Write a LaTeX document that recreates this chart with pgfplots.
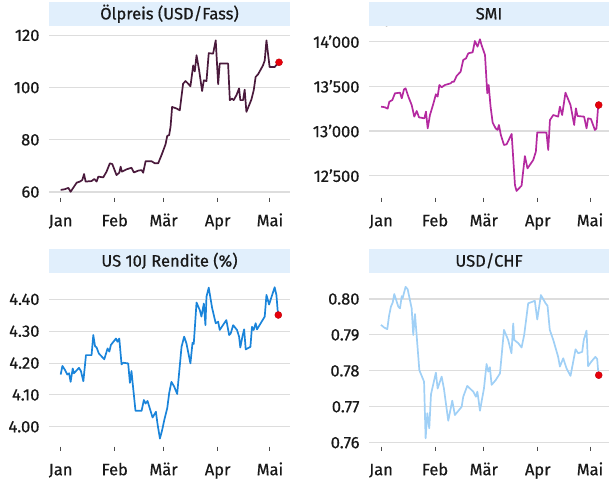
\documentclass[border=0pt]{standalone}
\usepackage{fontspec}
\setmainfont{Fira Sans}[RawFeature={embolden=0.6}]
\usepackage{pgfplots}
\pgfplotsset{compat=1.18}
\definecolor{barblue}{HTML}{E1EFFC}
\definecolor{gridgray}{HTML}{DDDDDD}
\definecolor{oilc}{HTML}{4A1A3C}
\definecolor{smic}{HTML}{B42AA0}
\definecolor{usc}{HTML}{1A84DA}
\definecolor{chfc}{HTML}{A0D0F6}
\definecolor{dotred}{HTML}{E8000B}
\newcommand\ap{\char"2019\relax}
\newcommand\xticks{\pgfplotsinvokeforeach{0,31,59,90,120}{\draw[black!70, line width=1pt] ({axis cs:##1,0} |- {rel axis cs:0,0}) -- ++(0pt,-4pt);}}
\pgfplotsset{
  panel/.style={
    scale only axis,
    anchor=north west,
    clip=false,
    axis x line*=bottom, axis y line*=left,
    axis line style={draw=none},
    ymajorgrids, grid style={gridgray, line width=1.1pt},
    xtick={0,31,59,90,120},
    xticklabels={Jan,Feb,Mär,Apr,Mai},
    tick align=outside,
    major tick length=4pt,
    xtick style={draw=none},
    ytick style={draw=none},
    tick label style={font=\fontsize{16.5}{18}\selectfont, text=black!90},
    xticklabel style={text height=0.72em, text depth=0.25em, yshift=-14pt},
    yticklabel style={xshift=-2pt},
    title style={at={(0.5,1)}, anchor=south, fill=barblue, minimum width=#1,
      minimum height=24pt, inner sep=0pt, font=\fontsize{16.5}{18}\selectfont, text=black!90},
    every axis plot/.append style={line width=1.7pt, line join=round},
  },
  dot/.style={only marks, mark=*, mark size=3.5pt, mark options={fill=dotred, draw=dotred!80!black, line width=0.4pt}},
}
\begin{document}
\begin{tikzpicture}
\path[use as bounding box] (0,0) rectangle (609pt,-479pt);
% Panel 1
\begin{axis}[panel=241pt, at={(49pt,-32pt)}, width=241pt, height=165.5pt,
  xmin=-6.7, xmax=131.5, ymin=57.9, ymax=121.3,
  ytick={60,80,100,120}, yticklabels={60,80,100,120},
  title={Ölpreis (USD/Fass)}]
\addplot[oilc] coordinates {(0,60.8)(2.5,61.1)(4.4,61.6)(5.7,60.1)(7.6,62)(9.2,63.6)(11,64)(12.4,64.6)(13.4,66.9)(14.3,64)(17.7,64.2)(19.3,65)(20.6,64)(21.6,65.9)(24.4,65.6)(26.3,67.8)(28.2,71)(29.6,70.7)(32,66.5)(33.6,67.4)(34.4,69.7)(35.1,67.8)(37.8,68.7)(40.6,69.3)(42,67.5)(44.5,68.2)(46.4,68.4)(47.3,67.4)(48.7,71.8)(52.1,71.8)(54,71)(55.9,71)(57.8,74.1)(60.1,78.2)(61.1,81.5)(62.2,81.8)(63,85)(63.9,92.6)(66.4,92)(68.3,91.3)(70.2,101.5)(71.6,102.5)(73.1,101.5)(74.4,100.5)(76,108.5)(76.9,106.2)(77.9,112.4)(79.4,106.6)(81.1,98.7)(82.1,102.8)(83.6,102.5)(84.9,113.2)(87.4,113)(88.9,118.1)(90.3,101.3)(91.2,109.2)(96,109.2)(97,95.2)(98.3,95.8)(99.2,95.2)(100.8,97.1)(102.3,99.7)(103,95.2)(104.6,95.2)(105.5,99.2)(106.5,90.7)(109.4,95.5)(110.7,99)(111.8,104.1)(113.2,105.1)(116,108.5)(117,110.4)(118,118.1)(119.8,107.9)(122.7,107.9)(124,108.9)};
\addplot[dot] coordinates {(125.2,109.7)};
\xticks
\end{axis}
% Panel 2
\begin{axis}[panel=240pt, at={(369pt,-32pt)}, width=240pt, height=165.5pt,
  xmin=-6.9, xmax=130.9, ymin=12256, ymax=14108,
  ytick={12500,13000,13500,14000}, yticklabels={12\ap500,13\ap000,13\ap500,14\ap000},
  title={SMI}]
\addplot[smic] coordinates {(0,13273)(2.3,13265)(3.8,13250)(4.8,13328)(6.5,13347)(8,13422)(10.9,13429)(11.9,13366)(13.2,13466)(14.1,13478)(15.7,13385)(17.6,13291)(19.1,13161)(20.5,13224)(21.8,13153)(24.9,13142)(25.8,13217)(26.8,13030)(28.1,13179)(30,13302)(31.5,13411)(32.5,13385)(33.5,13515)(34.8,13489)(36.7,13515)(40,13534)(40.9,13552)(41.9,13552)(43.4,13616)(45.7,13664)(47.2,13795)(48.8,13813)(50.1,13869)(52.6,13881)(53.9,14007)(55.4,13944)(56.8,14026)(57.7,13963)(59.7,13851)(61,13422)(61.8,13515)(62.9,13273)(64.1,13094)(65.8,13030)(66.9,13012)(67.7,13068)(68.8,12956)(70.6,12844)(72.1,12851)(75,12967)(76.9,12396)(77.8,12329)(80.7,12389)(82.6,12720)(84.1,12582)(87.4,12676)(88.9,12769)(89.7,12985)(95,12982)(96,12788)(97,13123)(98.9,13179)(101.7,13161)(102.7,13273)(104,13179)(105.9,13429)(108.8,13291)(110.9,13068)(111.9,13254)(112.8,13168)(116.6,13161)(118,13030)(118.9,13142)(120.5,13135)(122.8,13012)(123.7,13030)(124.7,13284)};
\addplot[dot] coordinates {(125,13291)};
\xticks
\end{axis}
% Panel 3
\begin{axis}[panel=241pt, at={(49pt,-279pt)}, width=241pt, height=167.5pt,
  xmin=-6.7, xmax=131.5, ymin=3.938, ymax=4.464,
  ytick={4.0,4.1,4.2,4.3,4.4}, yticklabels={4.00,4.10,4.20,4.30,4.40},
  title={US 10J Rendite (\%)}]
\addplot[usc] coordinates {(0,4.164)(1,4.191)(2.5,4.178)(3.8,4.164)(4.8,4.168)(5.7,4.141)(6.9,4.183)(7.6,4.168)(10.5,4.185)(11.6,4.175)(13,4.143)(14.5,4.225)(17.7,4.225)(18.7,4.288)(19.7,4.253)(20.6,4.249)(21.9,4.230)(25,4.212)(26.9,4.246)(27.9,4.236)(28.8,4.257)(31.7,4.277)(32.6,4.267)(33.6,4.277)(34.9,4.196)(35.9,4.201)(38.7,4.199)(39.7,4.138)(40.6,4.175)(41.2,4.141)(42.9,4.050)(46.4,4.050)(47.7,4.084)(48.7,4.073)(49.8,4.081)(52.7,4.029)(54.6,4.047)(55.5,4.010)(56.9,3.963)(58.2,3.990)(59.4,4.021)(61.1,4.058)(62.2,4.105)(63.5,4.141)(65.1,4.126)(66.8,4.103)(69.3,4.251)(70.8,4.283)(72.1,4.262)(74.4,4.199)(75.6,4.264)(76.3,4.260)(77.9,4.390)(79.8,4.366)(80.7,4.346)(82.1,4.387)(83,4.319)(83.6,4.408)(84.9,4.437)(86.8,4.374)(88.9,4.325)(90.3,4.330)(91.2,4.304)(95,4.335)(96.6,4.288)(97.5,4.293)(98.9,4.319)(101.1,4.304)(102.3,4.283)(103,4.249)(104.2,4.283)(105.2,4.306)(106.1,4.243)(108.8,4.251)(109.7,4.314)(110.7,4.304)(111.8,4.325)(112.6,4.306)(117,4.346)(118,4.414)(119.5,4.384)(122.7,4.438)(123.7,4.414)(124.6,4.354)};
\addplot[dot] coordinates {(124.8,4.351)};
\xticks
\end{axis}
% Panel 4
\begin{axis}[panel=240pt, at={(369pt,-279pt)}, width=240pt, height=167.5pt,
  xmin=-6.9, xmax=130.9, ymin=0.75894, ymax=0.80557,
  ytick={0.76,0.77,0.78,0.79,0.80}, yticklabels={0.76,0.77,0.78,0.79,0.80},
  title={USD/CHF}]
\addplot[chfc] coordinates {(0,0.7928)(1.7,0.7921)(3.6,0.7916)(4.6,0.7953)(5.7,0.7979)(6.7,0.7990)(7.6,0.8014)(9.9,0.7979)(10.9,0.7974)(11.9,0.8008)(12.4,0.8002)(14.1,0.8034)(15.3,0.8027)(17.6,0.7974)(18.5,0.7900)(19.5,0.7958)(22,0.7802)(24.7,0.7770)(25.6,0.7612)(26.6,0.7682)(27.7,0.7640)(28.7,0.7735)(31.5,0.7795)(32.5,0.7751)(34.8,0.7784)(36.1,0.7751)(38.6,0.7661)(40.9,0.7717)(42.4,0.7677)(46.3,0.7700)(47.2,0.7728)(49.5,0.7758)(53,0.7742)(54.5,0.7728)(55.3,0.7742)(55.8,0.7726)(56.8,0.7689)(59.1,0.7751)(60.6,0.7819)(61.6,0.7798)(62.5,0.7810)(63.5,0.7761)(65.8,0.7774)(68.3,0.7793)(70.6,0.7914)(73,0.7886)(74.9,0.7849)(75.9,0.7932)(76.5,0.7886)(78.8,0.7877)(80.7,0.7865)(82.2,0.7900)(84.5,0.7988)(88.3,0.7995)(89.7,0.7943)(91.8,0.8011)(94.5,0.7988)(95.6,0.7981)(96.9,0.7914)(98.9,0.7886)(101.7,0.7839)(102.7,0.7812)(104.6,0.7835)(106.5,0.7807)(108.8,0.7786)(111.7,0.7860)(113.2,0.7849)(115.5,0.7853)(116.4,0.7886)(118,0.7912)(118.9,0.7813)(120.8,0.7826)(123.1,0.7839)(124.1,0.7833)(124.7,0.7798)};
\addplot[dot] coordinates {(125,0.7788)};
\xticks
\end{axis}
\end{tikzpicture}
\end{document}
